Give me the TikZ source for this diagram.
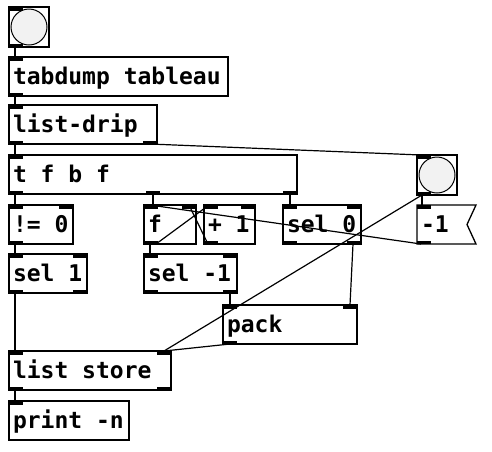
\documentclass[tikz,border=0pt]{standalone}
\usepackage{fontspec}
\usetikzlibrary{positioning}
\newfontfamily\pdfont{DejaVu Sans Mono}
\definecolor{bangfill}{HTML}{F2F2F2}

% inlet / outlet nubs
\newcommand{\inL}[1]{\fill (#1.north west) rectangle ++(14,3.5);}
\newcommand{\inR}[1]{\fill (#1.north east) rectangle ++(-14,3.5);}
\newcommand{\outL}[1]{\fill (#1.south west) rectangle ++(14,-3.5);}
\newcommand{\outR}[1]{\fill (#1.south east) rectangle ++(-14,-3.5);}
\newcommand{\pdfontsel}{\pdfont\bfseries\fontsize{23}{27}\selectfont}

\tikzset{
  pdobj/.style={draw, line width=1.3pt, anchor=north west, outer sep=0pt,
                inner xsep=4pt, inner ysep=0pt, minimum height=39pt,
                text height=19pt, text depth=3pt,
                text width=#1, font=\pdfontsel,
                execute at begin node={\spaceskip=0.602em\relax\xspaceskip=0.602em\relax\raggedright}},
  pdbang/.style={draw, line width=1.3pt, anchor=north west, outer sep=0pt,
                 inner sep=0pt, minimum size=40pt},
  cord/.style={line width=1.2pt},
}

\begin{document}
\begin{tikzpicture}[x=1pt, y=-1pt]
  \useasboundingbox (0,0) rectangle (492,451);

  % Boxes
  \node[pdbang] (bangA) at (9,7) {};
  \draw[line width=1pt, fill=bangfill] (bangA.center) circle (18);
  \node[pdobj=211pt] (tab)   at (9,57)   {tabdump tableau};
  \node[pdobj=140pt] (drip)  at (9,105)  {list-drip};
  \node[pdobj=280pt] (tfbf)  at (9,155)  {t f b f};
  \node[pdbang] (bangB) at (417,155) {};
  \draw[line width=1pt, fill=bangfill] (bangB.center) circle (18);
  \node[pdobj=56pt]  (neq)   at (9,205)   {!= 0};
  \node[pdobj=44pt]  (fbox)  at (144,205) {f};
  \node[pdobj=43pt]  (plus)  at (204,205) {+ 1};
  \node[pdobj=70pt]  (sel0)  at (283,205) {sel 0};
  \node[pdobj=51pt, draw=none] (msg) at (417,205) {-1};
  \draw[line width=1.3pt] (msg.north west) -- (msg.north east)
    -- ([xshift=-9pt]msg.east) -- (msg.south east) -- (msg.south west) -- cycle;
  \node[pdobj=70pt]  (sel1)  at (9,254)   {sel 1};
  \node[pdobj=85pt]  (selm)  at (144,254) {sel -1};
  \node[pdobj=126pt] (pack)  at (223,305) {pack};
  \node[pdobj=154pt] (store) at (9,351)   {list store};
  \node[pdobj=112pt] (print) at (9,401)   {print -n};

  % Inlets and outlets
  \inL{bangA} \outL{bangA}
  \inL{bangB} \outL{bangB}
  \inL{tab} \outL{tab}
  \inL{drip} \outL{drip} \outR{drip}
  \inL{tfbf} \outL{tfbf} \outR{tfbf}
  \fill ([xshift=137pt]tfbf.south west) rectangle ++(14,-3.5);
  \inL{neq} \inR{neq} \outL{neq}
  \inL{fbox} \inR{fbox} \outL{fbox}
  \inL{plus} \inR{plus} \outL{plus}
  \inL{sel0} \inR{sel0} \outL{sel0} \outR{sel0}
  \inL{msg} \outL{msg}
  \inL{sel1} \inR{sel1} \outL{sel1} \outR{sel1}
  \inL{selm} \inR{selm} \outL{selm} \outR{selm}
  \inL{pack} \inR{pack} \outL{pack}
  \inL{store} \inR{store} \outL{store} \outR{store}
  \inL{print}

  % Cords
  \draw[cord] ([xshift=6pt]bangA.south west) -- ([xshift=6pt]tab.north west);
  \draw[cord] ([xshift=6pt]tab.south west) -- ([xshift=6pt]drip.north west);
  \draw[cord] ([xshift=6pt]drip.south west) -- ([xshift=6pt]tfbf.north west);
  \draw[cord] ([xshift=-7pt]drip.south east) -- ([xshift=4pt]bangB.north west);
  \draw[cord] ([xshift=6pt]tfbf.south west) -- ([xshift=6pt]neq.north west);
  \draw[cord] ([xshift=144pt]tfbf.south west) -- ([xshift=9pt]fbox.north west);
  \draw[cord] ([xshift=-7pt]tfbf.south east) -- ([xshift=7pt]sel0.north west);
  \draw[cord] ([xshift=6pt]neq.south west) -- ([xshift=6pt]sel1.north west);
  \draw[cord] ([xshift=6pt]fbox.south west) -- ([xshift=6pt]selm.north west);
  \draw[cord] ([xshift=12pt]fbox.south west) -- ([xshift=5pt]plus.north west);
  \draw[cord] ([xshift=4pt]plus.south west) -- ([xshift=-7pt]fbox.north east);
  \draw[cord] ([xshift=4pt]msg.south west) -- ([xshift=6pt]fbox.north west);
  \draw[cord] ([xshift=5pt]bangB.south west) -- ([xshift=5pt]msg.north west);
  \draw[cord] ([xshift=5pt]bangB.south west) -- ([xshift=-7pt]store.north east);
  \draw[cord] ([xshift=-8pt]sel0.south east) -- ([xshift=-7pt]pack.north east);
  \draw[cord] ([xshift=6pt]sel1.south west) -- ([xshift=6pt]store.north west);
  \draw[cord] ([xshift=-7pt]selm.south east) -- ([xshift=7pt]pack.north west);
  \draw[cord] ([xshift=7pt]pack.south west) -- ([xshift=-7pt]store.north east);
  \draw[cord] ([xshift=6pt]store.south west) -- ([xshift=6pt]print.north west);
\end{tikzpicture}
\end{document}
